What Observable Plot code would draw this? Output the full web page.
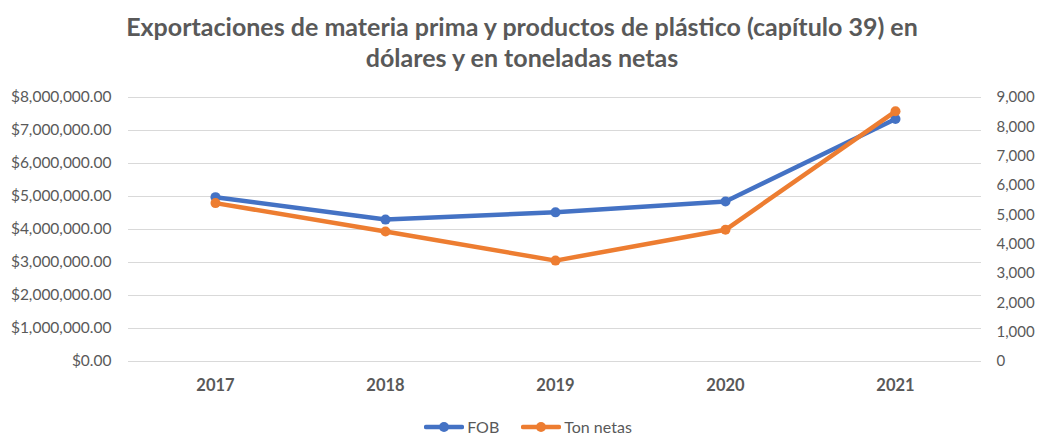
<!DOCTYPE html>
<html>
<head>
<meta charset="utf-8">
<script src="https://cdn.jsdelivr.net/npm/d3@7"></script>
<script src="https://cdn.jsdelivr.net/npm/@observablehq/plot@0.6"></script>
<style>
  html, body { margin: 0; padding: 0; background: #fff; }
  body { width: 1040px; height: 434px; overflow: hidden; font-family: Lato, "Open Sans", sans-serif; color: #595959; }
  #title { height: 80px; box-sizing: border-box; padding-top: 11px; text-align: center; font-weight: bold; font-size: 25px; line-height: 31px; color: #595959; margin-left: 4px; }
  #legend { display: flex; justify-content: center; align-items: center; gap: 22px; font-size: 16px; color: #595959; margin-top: 12px; margin-left: 16px; }
  .item { display: flex; align-items: center; gap: 3px; }
</style>
</head>
<body>
<div id="title">Exportaciones de materia prima y productos de plástico (capítulo 39) en<br>dólares y en toneladas netas</div>
<div id="chart"></div>
<div id="legend"></div>
<script>
const years = ["2017", "2018", "2019", "2020", "2021"];
const fob = [4980000, 4300000, 4520000, 4850000, 7350000];
const tonNetas = [5400, 4430, 3440, 4490, 8530];
const leftTicks = [0, 1000000, 2000000, 3000000, 4000000, 5000000, 6000000, 7000000, 8000000];
const rightTicks = [0, 1000, 2000, 3000, 4000, 5000, 6000, 7000, 8000, 9000];
const seriesNames = ["FOB", "Ton netas"];
const colors = ["#4472C4", "#ED7D31"];

const leftMax = 8000000, rightMax = 9000;
const k = leftMax / rightMax;

const fobData = years.map((y, i) => ({year: y, v: fob[i]}));
const tonData = years.map((y, i) => ({year: y, v: tonNetas[i] * k}));

const usd = d3.format("$,.2f");
const num = d3.format(",");

const chart = Plot.plot({
  width: 1040,
  height: 325,
  marginLeft: 128,
  marginRight: 59,
  marginTop: 17,
  marginBottom: 44,
  style: {fontFamily: "Lato, 'Open Sans', sans-serif", color: "#595959", background: "#fff"},
  x: {type: "point", domain: years, padding: 0.5, label: null},
  y: {domain: [0, leftMax], label: null},
  marks: [
    Plot.gridY(leftTicks, {stroke: "#d9d9d9", strokeOpacity: 1, strokeWidth: 1}),
    Plot.axisY(leftTicks, {anchor: "left", label: null, tickSize: 0, tickPadding: 17, tickFormat: usd, fontSize: 15.5, fill: "#595959"}),
    Plot.axisY(rightTicks.map(t => t * k), {anchor: "right", label: null, tickSize: 0, tickPadding: 15, tickFormat: d => num(Math.round(d / k)), fontSize: 15, fill: "#595959"}),
    Plot.axisX({label: null, tickSize: 0, tickPadding: 18, fontSize: 16.5, fontWeight: "bold", fill: "#595959"}),
    Plot.line(fobData, {x: "year", y: "v", stroke: colors[0], strokeWidth: 4.5, strokeLinejoin: "round", strokeLinecap: "round"}),
    Plot.dot(fobData, {x: "year", y: "v", r: 5, fill: colors[0]}),
    Plot.line(tonData, {x: "year", y: "v", stroke: colors[1], strokeWidth: 4.5, strokeLinejoin: "round", strokeLinecap: "round"}),
    Plot.dot(tonData, {x: "year", y: "v", r: 5, fill: colors[1]})
  ]
});
document.getElementById("chart").appendChild(chart);

const legend = document.getElementById("legend");
seriesNames.forEach((name, i) => {
  const item = document.createElement("div");
  item.className = "item";
  item.innerHTML = `<svg width="40" height="12"><line x1="2" y1="6" x2="38" y2="6" stroke="${colors[i]}" stroke-width="4.5" stroke-linecap="round"/><circle cx="20" cy="6" r="5" fill="${colors[i]}"/></svg><span>${name}</span>`;
  legend.appendChild(item);
});
</script>
</body>
</html>
